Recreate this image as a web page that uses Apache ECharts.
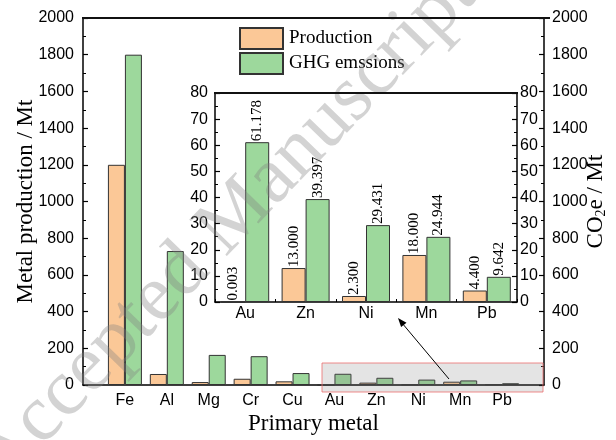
<!DOCTYPE html>
<html>
<head>
<meta charset="utf-8">
<script src="https://cdn.jsdelivr.net/npm/echarts@6/dist/echarts.min.js"></script>
<style>html,body{margin:0;padding:0;background:#fff}#c{width:616px;height:440px}</style>
</head>
<body>
<div id="c"></div>
<script>
// ---- data ----
var metals = ['Fe', 'Al', 'Mg', 'Cr', 'Cu', 'Au', 'Zn', 'Ni', 'Mn', 'Pb'];
var production = [1200, 60, 16, 34, 20, 0.003, 13.0, 2.3, 18.0, 4.4];
var ghg = [1800, 730, 164, 157, 65, 61.178, 39.397, 29.431, 24.944, 9.642];
var insetMetals = ['Au', 'Zn', 'Ni', 'Mn', 'Pb'];
var insetProduction = [0.003, 13.0, 2.3, 18.0, 4.4];
var insetGhg = [61.178, 39.397, 29.431, 24.944, 9.642];
var mainTicks = [0, 200, 400, 600, 800, 1000, 1200, 1400, 1600, 1800, 2000];
var insetTicks = [0, 10, 20, 30, 40, 50, 60, 70, 80];

// ---- styling / layout ----
var ORANGE = '#FBC897', GREEN = '#9DD89C', EDGE = '#333333';
var SANS = 'Liberation Sans', SERIF = 'Liberation Serif';
var W = 616, H = 440;
var G0 = { left: 83, right: 67, top: 18, bottom: 53 };
var G1 = { left: 215, right: 99, top: 93, bottom: 138 };

var mainCats = [''].concat(metals, ['']);
var mainProd = [null].concat(production, [null]);
var mainGhg = [null].concat(ghg, [null]);

function yAxisCommon(ticks, gridIndex, position, labelMargin) {
  return {
    type: 'value', gridIndex: gridIndex, position: position,
    min: ticks[0], max: ticks[ticks.length - 1], interval: ticks[1] - ticks[0],
    axisLine: { show: true, onZero: false, lineStyle: { color: '#000', width: 1.5 } },
    axisTick: { show: true, inside: true, length: 5, lineStyle: { color: '#000', width: 1.2 } },
    minorTick: { show: true, splitNumber: 2, length: 3, lineStyle: { color: '#000', width: 1 } },
    splitLine: { show: false },
    axisLabel: { fontFamily: SANS, fontSize: 16, color: '#000', margin: labelMargin,
      formatter: function (v) { return String(v); } }
  };
}

var yMainL = yAxisCommon(mainTicks, 0, 'left', 9);
yMainL.name = 'Metal production / Mt';
yMainL.nameLocation = 'middle';
yMainL.nameRotate = 90;
yMainL.nameGap = 46;
yMainL.nameMoveOverlap = false;
yMainL.nameTextStyle = { fontFamily: SERIF, fontSize: 23, color: '#000' };

var yMainR = yAxisCommon(mainTicks, 0, 'right', 8);
yMainR.name = 'CO{s|2}e / Mt';
yMainR.nameLocation = 'middle';
yMainR.nameRotate = 90;
yMainR.nameGap = 40;
yMainR.nameMoveOverlap = false;
yMainR.nameTextStyle = { fontFamily: SERIF, fontSize: 23, color: '#000',
  rich: { s: { fontFamily: SERIF, fontSize: 14, color: '#000', padding: [10, 0, 0, 0] } } };

var yInL = yAxisCommon(insetTicks, 1, 'left', 7);
var yInR = yAxisCommon(insetTicks, 1, 'right', 3);

// top frame edge: a crisp 2px filled bar on an upper layer
function topEdge(g) {
  return { type: 'rect', zlevel: 2, z: 50,
    shape: { x: g.left - 1, y: g.top - 1, width: W - g.left - g.right + 2, height: 2 },
    style: { fill: '#111', stroke: null } };
}

var barLabel = {
  show: true, position: 'top', rotate: 90, align: 'left', verticalAlign: 'middle',
  distance: 1, fontFamily: SERIF, fontSize: 15, color: '#000',
  formatter: function (p) { return p.value.toFixed(3); }
};

var option = {
  backgroundColor: '#fff',
  animation: false,
  legend: {
    data: ['Production', 'GHG emssions'],
    orient: 'vertical', left: 239, top: 27, padding: 0,
    itemWidth: 43, itemHeight: 21, itemGap: 2,
    icon: 'rect',
    textStyle: { fontFamily: SERIF, fontSize: 19, color: '#000', padding: [0, 0, 0, 1] }
  },
  grid: [
    Object.assign({}, G0),
    Object.assign({ show: true, borderWidth: 0, backgroundColor: '#fff' }, G1)
  ],
  xAxis: [
    {
      type: 'category', gridIndex: 0, data: mainCats, boundaryGap: false,
      name: 'Primary metal', nameLocation: 'middle', nameGap: 27, nameMoveOverlap: false,
      nameTextStyle: { fontFamily: SERIF, fontSize: 23, color: '#000' },
      axisLine: { onZero: false, lineStyle: { color: '#000', width: 1.5 } },
      axisTick: { show: false },
      axisLabel: { fontFamily: SANS, fontSize: 16, color: '#000', margin: 8, interval: 0 }
    },
    {
      type: 'category', gridIndex: 1, data: insetMetals,
      axisLine: { onZero: false, lineStyle: { color: '#000', width: 1.5 } },
      axisTick: { show: true, inside: true, length: 3, lineStyle: { color: '#000' } },
      axisLabel: { fontFamily: SANS, fontSize: 16, color: '#000', margin: 4, interval: 0 }
    }
  ],
  yAxis: [yMainL, yMainR, yInL, yInR],
  series: [
    { name: 'Production', type: 'bar', xAxisIndex: 0, yAxisIndex: 0, data: mainProd,
      barWidth: 17, barGap: '0%', itemStyle: { color: ORANGE, borderColor: EDGE, borderWidth: 1 } },
    { name: 'GHG emssions', type: 'bar', xAxisIndex: 0, yAxisIndex: 0, data: mainGhg,
      barWidth: 17, barGap: '0%', itemStyle: { color: GREEN, borderColor: EDGE, borderWidth: 1 } },
    { name: 'Production', type: 'bar', xAxisIndex: 1, yAxisIndex: 2, data: insetProduction,
      barWidth: 24, barGap: '0%', itemStyle: { color: ORANGE, borderColor: EDGE, borderWidth: 1 }, label: barLabel },
    { name: 'GHG emssions', type: 'bar', xAxisIndex: 1, yAxisIndex: 2, data: insetGhg,
      barWidth: 24, barGap: '0%', itemStyle: { color: GREEN, borderColor: EDGE, borderWidth: 1 }, label: barLabel }
  ],
  graphic: {
    elements: [
      topEdge(G0),
      topEdge(G1),
      { type: 'rect', z: 100, shape: { x: 322, y: 363, width: 221, height: 29 },
        style: { fill: 'rgba(120,120,120,0.2)', stroke: 'rgba(235,110,110,0.8)', lineWidth: 1 } },
      { type: 'line', z: 100, shape: { x1: 449, y1: 379, x2: 402, y2: 323 },
        style: { stroke: '#000', lineWidth: 1 } },
      { type: 'polygon', z: 100, shape: { points: [[398, 318], [406.5, 322.7], [401.1, 327.1]] },
        style: { fill: '#000' } },
      { type: 'text', z: 200, x: 225, y: 228, rotation: 0.80,
        style: { text: 'Accepted Manuscript', font: '80px "Liberation Serif"',
          fill: 'rgba(128,128,128,0.35)', align: 'center', verticalAlign: 'middle' } }
    ]
  }
};

var chart = echarts.init(document.getElementById('c'), null, { renderer: 'canvas', width: W, height: H });
chart.setOption(option);
</script>
</body>
</html>
